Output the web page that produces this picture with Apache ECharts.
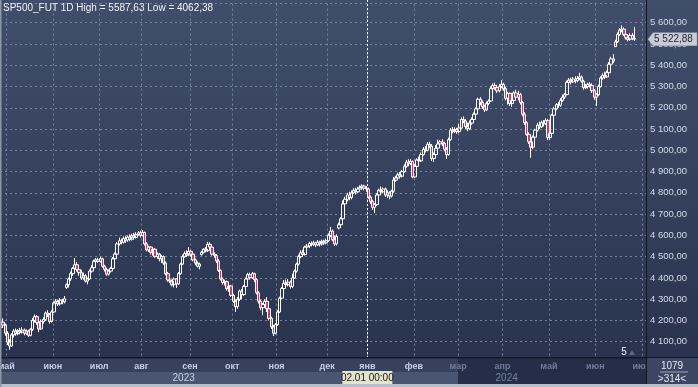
<!DOCTYPE html>
<html><head><meta charset="utf-8">
<script src="https://cdn.jsdelivr.net/npm/echarts@6/dist/echarts.min.js"></script>
<style>html,body{margin:0;padding:0;background:#2b3652}#c{width:698px;height:387px}</style>
</head><body><div id="c"></div>
<script>
// ---- data ----
const opens = [
4168,4192,4178,4140,4098,4080,4132,4150,4138,4152,
4145,4155,4140,4150,4130,4158,4200,4218,4190,4160,
4195,4205,4235,4228,4195,4240,4282,4290,4278,4295,
4288,4355,4368,4395,4420,4445,4462,4440,4425,4400,
4410,4385,4395,4432,4448,4478,4485,4478,4490,4455,
4440,4418,4432,4445,4490,4512,4560,4575,4568,4585,
4578,4592,4582,4598,4590,4605,4612,4600,4614,4560,
4532,4545,4520,4535,4500,4512,4490,4500,4470,4420,
4390,4385,4368,4395,4372,4420,4465,4500,4515,4508,
4525,4512,4485,4470,4455,4510,4520,4535,4528,4558,
4545,4512,4505,4480,4435,4395,4378,4382,4350,4362,
4318,4290,4265,4300,4338,4322,4360,4395,4415,4402,
4420,4392,4330,4290,4260,4275,4290,4255,4210,4170,
4140,4180,4240,4305,4350,4375,4368,4380,4360,4400,
4432,4465,4500,4518,4510,4545,4550,4562,4558,4565,
4555,4568,4560,4572,4565,4575,4600,4620,4580,4560,
4635,4650,4678,4748,4770,4790,4778,4800,4812,4805,
4818,4825,4832,4822,4818,4780,4760,4732,4745,4790,
4812,4805,4818,4790,4800,4785,4808,4860,4870,4885,
4878,4900,4925,4945,4938,4948,4875,4925,4955,4950,
4980,5005,5000,5028,5020,4962,4980,5010,5030,5040,
5032,5005,4980,5050,5095,5090,5098,5088,5105,5145,
5138,5112,5102,5128,5145,5170,5195,5240,5225,5205,
5190,5220,5232,5290,5305,5295,5280,5300,5310,5290,
5245,5268,5220,5235,5270,5250,5262,5225,5170,5130,
5075,5040,5015,5062,5095,5118,5110,5130,5125,5140,
5060,5080,5165,5195,5215,5212,5235,5250,5262,5320,
5330,5322,5335,5328,5338,5345,5325,5295,5300,5310,
5305,5280,5250,5262,5300,5340,5352,5345,5365,5405,
5430,5488,5510,5545,5565,5570,5545,5530,5522,5540,
5525];
const closes = [
4192,4178,4140,4098,4080,4132,4150,4138,4152,4145,
4155,4140,4150,4130,4158,4200,4218,4190,4160,4195,
4205,4235,4228,4195,4240,4282,4290,4278,4295,4288,
4302,4368,4395,4420,4445,4462,4440,4425,4400,4410,
4385,4395,4432,4448,4478,4485,4478,4490,4455,4440,
4418,4432,4445,4490,4512,4560,4575,4568,4585,4578,
4592,4582,4598,4590,4605,4612,4600,4614,4560,4532,
4545,4520,4535,4500,4512,4490,4500,4470,4420,4390,
4385,4368,4395,4372,4420,4465,4500,4515,4508,4525,
4512,4485,4470,4455,4465,4520,4535,4528,4558,4545,
4512,4505,4480,4435,4395,4378,4382,4350,4362,4318,
4290,4265,4300,4338,4322,4360,4395,4415,4402,4420,
4392,4330,4290,4260,4275,4290,4255,4210,4170,4140,
4180,4240,4305,4350,4375,4368,4380,4360,4400,4432,
4465,4500,4518,4510,4545,4550,4562,4558,4565,4555,
4568,4560,4572,4565,4575,4600,4620,4580,4560,4595,
4650,4678,4748,4770,4790,4778,4800,4812,4805,4818,
4825,4832,4822,4818,4780,4760,4732,4745,4790,4812,
4805,4818,4790,4800,4785,4808,4860,4870,4885,4878,
4900,4925,4945,4938,4948,4875,4925,4955,4950,4980,
5005,5000,5028,5020,4962,4980,5010,5030,5040,5032,
5005,4980,5050,5095,5090,5098,5088,5105,5145,5138,
5112,5102,5128,5145,5170,5195,5240,5225,5205,5190,
5220,5232,5290,5305,5295,5280,5300,5310,5290,5245,
5268,5220,5235,5270,5250,5262,5225,5170,5130,5075,
5040,5015,5062,5095,5118,5110,5130,5125,5140,5060,
5080,5165,5195,5215,5212,5235,5250,5262,5320,5330,
5322,5335,5328,5338,5345,5325,5295,5300,5310,5305,
5280,5250,5262,5300,5340,5352,5345,5365,5405,5430,
5420,5510,5545,5565,5570,5545,5530,5522,5540,5525,
5522.88];
const lows = [
4150,4165,4128,4085,4062.38,4075,4120,4128,4130,4135,
4138,4130,4132,4122,4125,4150,4190,4180,4145,4155,
4185,4198,4215,4185,4190,4235,4272,4268,4270,4276,
4280,4348,4355,4385,4410,4440,4430,4410,4390,4392,
4378,4370,4390,4425,4440,4468,4470,4472,4448,4430,
4410,4410,4425,4440,4485,4508,4552,4558,4562,4565,
4570,4572,4575,4580,4585,4598,4590,4595,4552,4525,
4522,4510,4505,4495,4490,4478,4470,4462,4412,4382,
4376,4360,4355,4353,4368,4415,4460,4495,4498,4502,
4500,4478,4460,4448,4440,4505,4515,4520,4522,4535,
4505,4495,4470,4428,4388,4368,4365,4340,4335,4310,
4282,4240,4255,4292,4300,4315,4352,4388,4392,4395,
4380,4322,4280,4248,4225,4262,4240,4200,4160,4127,
4135,4175,4235,4300,4342,4355,4360,4350,4352,4395,
4425,4458,4492,4498,4505,4538,4540,4548,4550,4545,
4550,4548,4552,4555,4558,4570,4592,4572,4550,4552,
4628,4642,4670,4740,4760,4765,4770,4795,4792,4798,
4810,4815,4812,4805,4772,4748,4720,4705,4738,4782,
4795,4798,4780,4775,4770,4778,4800,4852,4862,4868,
4872,4895,4918,4925,4930,4868,4870,4918,4938,4945,
4975,4990,4995,5010,4950,4945,4975,5002,5022,5020,
4995,4960,4975,5045,5080,5082,5078,5080,5100,5128,
5100,5090,5095,5120,5140,5165,5190,5212,5195,5180,
5185,5212,5228,5282,5285,5270,5272,5292,5280,5235,
5215,5208,5205,5228,5240,5235,5215,5160,5120,5068,
5030,4965,5005,5055,5088,5100,5105,5112,5120,5048,
5050,5075,5160,5188,5200,5205,5228,5242,5258,5312,
5310,5318,5315,5320,5330,5318,5285,5288,5290,5295,
5270,5238,5208,5255,5295,5332,5335,5340,5360,5398,
5410,5485,5505,5538,5555,5538,5520,5512,5515,5518,
5515];
const highs = [
4205,4210,4185,4150,4112,4140,4160,4162,4160,4165,
4168,4162,4158,4156,4165,4212,4228,4225,4198,4205,
4215,4242,4248,4235,4248,4290,4300,4298,4305,4302,
4315,4375,4402,4430,4452,4494,4475,4455,4438,4425,
4418,4402,4440,4460,4486,4494,4495,4500,4495,4462,
4448,4440,4452,4498,4520,4568,4590,4585,4595,4596,
4600,4605,4608,4612,4615,4620,4622,4625,4618,4568,
4552,4550,4542,4540,4520,4518,4508,4505,4478,4428,
4400,4392,4402,4398,4428,4472,4510,4525,4530,4545,
4532,4520,4492,4478,4472,4528,4540,4545,4570,4568,
4552,4520,4512,4488,4440,4402,4392,4388,4370,4368,
4325,4298,4310,4345,4348,4368,4402,4424,4425,4428,
4425,4398,4338,4298,4282,4300,4310,4262,4218,4178,
4188,4248,4312,4358,4390,4392,4395,4388,4420,4440,
4472,4510,4530,4532,4552,4560,4570,4572,4575,4570,
4578,4575,4580,4580,4585,4610,4640,4628,4600,4605,
4660,4685,4765,4782,4800,4805,4812,4822,4824,4828,
4836,4840,4838,4832,4825,4788,4768,4752,4798,4820,
4830,4826,4825,4812,4808,4815,4875,4880,4895,4898,
4908,4935,4955,4958,4960,4952,4935,4962,4970,4990,
5015,5020,5038,5040,5030,4990,5025,5050,5048,5052,
5040,5015,5060,5105,5110,5108,5106,5125,5155,5160,
5148,5130,5140,5155,5178,5202,5248,5250,5235,5215,
5230,5240,5300,5315,5318,5308,5312,5330,5318,5298,
5275,5272,5260,5278,5285,5280,5270,5232,5180,5138,
5085,5048,5070,5102,5130,5135,5140,5142,5150,5148,
5090,5172,5205,5222,5228,5245,5262,5270,5328,5340,
5342,5345,5348,5350,5365,5352,5332,5312,5318,5320,
5315,5288,5270,5310,5348,5362,5370,5375,5415,5440,
5452,5520,5555,5575,5587.63,5578,5558,5545,5550,5552,
5580];

const categoryCount = 306;              // daily slots across the visible window
const monthLabels   = ['май','июн','июл','авг','сен','окт','ноя','дек','янв','фев','мар','апр','май','июн','июл'];
const monthStartIdx = [3,25,47,67,90,110,131,155,174,196,217,238,260,282,304];
const yearLabels    = ['2023','2024'];
const titleText     = 'SP500_FUT 1D High = 5587,63 Low = 4062,38';
const crosshairIdx  = 174;
const crosshairText = '02.01 00:00';
const infoTop = '1079', infoBottom = '>314<';

// ---- build ----
const FONT = 'Liberation Sans, Arial, sans-serif';
const categories = Array.from({length: categoryCount}, (_, i) => String(i));
const candleData = opens.map((o, i) => [o, closes[i], lows[i], highs[i]]);
function fmt(v, dec) {
  const neg = v < 0; v = Math.abs(v);
  const s = v.toFixed(dec).split('.');
  const intPart = s[0].replace(/\B(?=(\d{3})+(?!\d))/g, ' ');
  return (neg ? '-' : '') + intPart + ',' + s[1];
}

const chart = echarts.init(document.getElementById('c'), null, {renderer: 'canvas'});
const gridCol = 'rgba(128,143,172,0.85)';
chart.setOption({
  animation: false,
  backgroundColor: {type: 'linear', x: 0, y: 0, x2: 0, y2: 1,
    colorStops: [{offset: 0, color: '#414e6b'}, {offset: 1, color: '#27314c'}]},
  grid: {left: 0, right: 52, top: 3.6, bottom: 24},
  xAxis: {
    type: 'category', data: categories, boundaryGap: true,
    axisLine: {show: false}, axisTick: {show: false}, axisLabel: {show: false},
    splitLine: {show: true, interval: (i) => monthStartIdx.indexOf(i) >= 0,
      lineStyle: {color: gridCol, type: [2, 3], width: 1}}
  },
  yAxis: {
    type: 'value', position: 'right', min: 4000, max: 5690, interval: 100,
    axisLine: {show: true, lineStyle: {color: '#121826', width: 1}},
    axisTick: {show: false},
    axisLabel: {
      formatter: (v) => (v < 4100 || v > 5600) ? '' : fmt(v, 2),
      color: '#d4dbe9', fontSize: 9.5, fontFamily: FONT, margin: 4, align: 'left'
    },
    splitLine: {show: true, lineStyle: {color: gridCol, type: [2, 3], width: 1}}
  },
  series: [{
    type: 'candlestick', data: candleData, barWidth: 3,
    itemStyle: {color: 'transparent', color0: '#d03a62', borderColor: '#ffffff', borderColor0: '#ffffff', borderWidth: 1}
  }]
});

// ---- overlay (strip, labels, markers) ----
const p0 = chart.convertToPixel({xAxisIndex: 0}, 0);
const p1 = chart.convertToPixel({xAxisIndex: 0}, 1);
const step = p1 - p0;
const bx = (i) => p0 - step / 2 + i * step;
const plotRight = 646, stripTop = 358, W = 698, H = 387;
const darkFrom = bx(monthStartIdx[10]);
const xJan = bx(crosshairIdx);
const yLast = chart.convertToPixel({yAxisIndex: 0}, closes[closes.length - 1]);

const g = [];
g.push({type: 'line', z: 40, shape: {x1: Math.round(xJan) + 0.5, y1: 0, x2: Math.round(xJan) + 0.5, y2: stripTop},
  style: {stroke: '#ffffff', lineWidth: 1, lineDash: [2, 2]}});
g.push({type: 'rect', z: 50, shape: {x: 0, y: stripTop, width: plotRight, height: 14}, style: {fill: '#36425d'}});
g.push({type: 'rect', z: 50, shape: {x: 0, y: stripTop + 14, width: plotRight, height: 12}, style: {fill: '#495672'}});
g.push({type: 'rect', z: 51, shape: {x: darkFrom, y: stripTop, width: plotRight - darkFrom, height: 26}, style: {fill: '#252e47'}});
g.push({type: 'rect', z: 52, shape: {x: 0, y: stripTop - 1, width: W, height: 1.5}, style: {fill: '#121826'}});
monthLabels.forEach((m, k) => {
  const x = bx(monthStartIdx[k]);
  g.push({type: 'text', z: 55, x: x, y: stripTop + 8.5,
    style: {text: m, fill: x < darkFrom - 4 ? '#c4cee3' : '#6f7d99', font: 'bold 9px ' + FONT, align: 'center', verticalAlign: 'middle'}});
});
const yc = [(0 + xJan) / 2, (xJan + plotRight) / 2];
yearLabels.forEach((y, k) => {
  g.push({type: 'text', z: 55, x: yc[k], y: stripTop + 20.5,
    style: {text: y, fill: k === 0 ? '#c4cee3' : '#74829e', font: '10px ' + FONT, align: 'center', verticalAlign: 'middle'}});
});
g.push({type: 'rect', z: 60, shape: {x: xJan - 25, y: stripTop + 13, width: 50, height: 14}, style: {fill: '#e4e3cb'}});
g.push({type: 'text', z: 61, x: xJan, y: stripTop + 20.5,
  style: {text: crosshairText, fill: '#1a1a1a', font: '10px ' + FONT, align: 'center', verticalAlign: 'middle'}});
g.push({type: 'rect', z: 70, shape: {x: plotRight, y: stripTop, width: W - plotRight, height: 26}, style: {fill: '#3b4762'}});
g.push({type: 'rect', z: 71, shape: {x: plotRight, y: 0, width: 1, height: H}, style: {fill: '#121826'}});
g.push({type: 'text', z: 72, x: 672, y: 366, style: {text: infoTop, fill: '#e6eaf2', font: '10px ' + FONT, align: 'center', verticalAlign: 'middle'}});
g.push({type: 'rect', z: 72, shape: {x: 660, y: 371.5, width: 28, height: 1}, style: {fill: '#9aa3b5'}});
g.push({type: 'text', z: 72, x: 672, y: 379, style: {text: infoBottom, fill: '#e6eaf2', font: '10px ' + FONT, align: 'center', verticalAlign: 'middle'}});
g.push({type: 'rect', z: 80, shape: {x: 0, y: H - 3, width: W, height: 3}, style: {fill: '#b9bfca'}});
g.push({type: 'rect', z: 80, shape: {x: 0, y: 0, width: 1.5, height: H}, style: {fill: '#8d96a8'}});
g.push({type: 'polygon', z: 75, shape: {points: [[648, yLast], [653, yLast - 6.5], [697, yLast - 6.5], [697, yLast + 6.5], [653, yLast + 6.5]]},
  style: {fill: '#c8ccd5', stroke: '#9aa1ae', lineWidth: 0.5}});
g.push({type: 'text', z: 76, x: 654, y: yLast + 0.5,
  style: {text: fmt(closes[closes.length - 1], 2), fill: '#1e2432', font: '10px ' + FONT, align: 'left', verticalAlign: 'middle'}});
g.push({type: 'text', z: 90, x: 3, y: 8,
  style: {text: titleText, fill: '#eef1f6', font: '10px ' + FONT, align: 'left', verticalAlign: 'middle'}});
g.push({type: 'text', z: 90, x: 624, y: 352, style: {text: '5', fill: '#f2f4f8', font: '10px ' + FONT, align: 'center', verticalAlign: 'middle'}});
g.push({type: 'polygon', z: 90, shape: {points: [[629, 355], [632, 350], [635, 355]]}, style: {fill: '#5d6a86'}});

chart.setOption({graphic: g});
</script>
</body></html>
